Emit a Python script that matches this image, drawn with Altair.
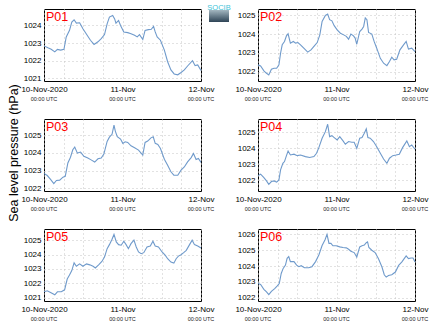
import altair as alt
import pandas as pd
import math

FONT = "Liberation Sans"

names = ["P01", "P02", "P03", "P04", "P05", "P06"]

P01_h = [0,1.2,2.2,3.3,4.1,5.1,6.1,6.8,7.8,8.5,9.2,9.9,10.9,11.9,13.2,14.2,15.3,16.5,17.5,18.5,19.3,20,21,21.6,22,22.8,23.4,24.4,25.6,26.6,27.7,28.5,29.2,30.2,30.9,31.9,32.8,33.5,34,34.6,35.6,36.8,37.8,38.8,39.8,40.9,41.9,42.9,43.9,45.4,46.2,47,48]
P01_v = [1022.84,1022.73,1022.65,1022.5,1022.64,1022.6,1022.64,1023.35,1023.72,1024.19,1024.32,1024.13,1024.15,1023.81,1023.44,1023.16,1022.92,1023.07,1023.25,1023.48,1024.09,1024.47,1024.56,1024.37,1024.13,1024.28,1024.0,1023.63,1023.59,1023.53,1023.44,1023.35,1023.48,1023.2,1023.72,1023.76,1023.78,1023.94,1023.63,1023.35,1023.16,1022.6,1021.94,1021.48,1021.25,1021.2,1021.33,1021.48,1021.7,1022.0,1021.72,1021.76,1021.44]

P02_h = [0,0.8,1.8,2.6,3.3,4.1,4.9,5.7,6.4,6.9,7.4,8.1,8.7,9.2,9.9,10.8,11.5,12.2,13,14,15.2,16.2,17.3,18.1,18.9,19.6,20.6,21.3,21.9,22.6,23.3,24.2,25.2,26.2,27,27.7,28.4,29.2,29.7,30.2,31.1,31.8,32.3,32.8,33.3,33.8,34.8,35.5,36.3,37.4,38.4,39.4,40.2,40.9,41.6,42.4,43.4,44.5,45.3,46,47,48]
P02_v = [1022.36,1022.3,1022.04,1021.91,1021.82,1022.13,1022.18,1022.18,1022.36,1022.98,1023.43,1023.61,1023.91,1024.02,1023.52,1023.61,1023.52,1023.55,1023.43,1023.25,1023.04,1023.16,1023.39,1023.55,1023.96,1024.68,1025.0,1025.07,1024.77,1024.71,1024.45,1024.23,1024.05,1023.96,1023.88,1023.73,1024.0,1023.91,1023.79,1023.46,1024.14,1024.27,1024.41,1024.86,1024.77,1024.09,1024.0,1023.61,1023.25,1022.71,1022.45,1022.32,1022.54,1022.77,1022.63,1022.66,1023.16,1023.43,1023.61,1023.2,1023.25,1023.07]

P03_h = [0,1,2,3,3.8,4.8,5.8,6.5,7.3,8.1,8.8,9.4,10.2,11.2,12.2,13.4,14.4,15.5,16.5,17.5,18.3,19.3,20,20.8,21.4,21.8,22.4,23.4,24.1,24.8,25.6,26.6,27.7,28.9,30.2,30.9,31.7,32.7,33.4,34,34.8,35.6,36.8,37.8,38.8,39.7,40.9,41.9,42.9,43.9,45,45.7,46.5,47.2,48]
P03_v = [1022.83,1022.72,1022.5,1022.27,1022.44,1022.46,1022.63,1022.68,1023.43,1023.75,1024.17,1024.32,1023.98,1024.04,1023.8,1023.7,1023.6,1023.48,1023.66,1023.7,1023.93,1024.64,1024.88,1025.04,1025.56,1025.22,1024.9,1024.77,1024.53,1024.62,1024.58,1024.39,1024.28,1024.15,1023.87,1024.58,1024.66,1024.84,1024.9,1024.53,1024.47,1024.24,1023.64,1023.3,1022.93,1022.74,1022.74,1023.02,1023.2,1023.49,1023.73,1023.96,1023.62,1023.68,1023.46]

P04_h = [0,0.8,1.8,2.6,3.3,4.1,4.9,5.7,6.4,6.9,7.6,8.1,8.7,9.2,9.9,11,12,13,14.5,15.8,17.1,17.9,18.6,19.6,20.6,21.3,21.9,22.6,23.3,24.2,25,26,26.7,27.7,28.7,29.4,30.2,31.1,31.8,32.5,33.1,33.6,34.3,35.3,36.3,37.4,38.4,39.4,40.2,41.2,42.2,43.2,44.2,45.5,46.3,47,48]
P04_v = [1022.29,1022.38,1022.17,1021.96,1021.75,1021.92,1021.96,1021.88,1022.02,1022.65,1023.06,1023.17,1023.54,1023.83,1023.58,1023.63,1023.54,1023.58,1023.48,1023.42,1023.48,1023.69,1024.04,1024.63,1025.04,1025.5,1024.73,1024.79,1024.67,1024.52,1024.73,1024.46,1024.25,1024.42,1024.38,1024.38,1024.0,1024.63,1024.67,1024.94,1025.21,1024.67,1024.63,1024.42,1024.1,1023.69,1023.33,1023.06,1023.38,1023.54,1023.58,1023.63,1024.04,1024.46,1024.1,1024.21,1023.94]

P05_h = [0,1,2,3.3,4.1,5.3,6.3,7.1,7.8,8.5,9.2,9.9,10.9,11.9,13,14,15,15.7,16.7,17.7,18.5,19.3,20,20.8,21.4,22.1,22.8,23.6,24.4,25.1,25.8,26.6,27.5,28.2,28.9,29.7,30.5,31.5,32.5,33.3,34,35,36.1,37.1,37.8,38.8,39.7,40.4,41.1,41.9,42.7,43.5,44.5,45.3,46,47,48]
P05_v = [1021.4,1021.47,1021.35,1021.19,1021.4,1021.4,1021.54,1022.29,1022.58,1022.88,1023.42,1023.18,1023.35,1023.18,1023.35,1023.28,1023.18,1023.06,1023.28,1023.52,1023.82,1024.41,1024.69,1025.07,1025.4,1024.88,1024.69,1024.65,1024.93,1024.69,1024.41,1024.76,1025.0,1024.53,1024.18,1024.06,1024.13,1024.53,1024.6,1024.93,1024.6,1024.53,1024.18,1023.94,1023.71,1023.47,1023.4,1023.71,1023.89,1023.99,1024.13,1024.29,1024.69,1025.0,1024.69,1024.6,1024.46]

P06_h = [0,0.8,1.8,2.6,3.3,4.1,5.1,5.9,6.5,7.1,7.7,8.4,8.9,9.4,9.9,11,11.8,12.5,13.2,14.2,15.5,16.5,17.6,18.6,19.6,20.5,21.1,21.7,22.3,22.9,23.9,25,26,27,27.7,28.4,29.4,30.2,31.1,31.8,32.5,33.1,33.5,33.9,34.8,35.8,36.8,37.9,38.6,39.2,39.9,40.9,42,43,44,44.7,45.3,46,46.8,47.4,48]
P06_v = [1022.89,1022.83,1022.53,1022.36,1022.19,1022.4,1022.57,1022.74,1022.89,1023.53,1023.85,1024.06,1024.49,1024.6,1024.28,1024.28,1024.06,1023.96,1024.02,1023.89,1023.89,1023.96,1024.28,1024.7,1025.3,1025.66,1026.0,1025.43,1025.43,1025.28,1025.28,1025.21,1025.17,1025.15,1025.06,1024.94,1024.85,1024.57,1025.21,1025.28,1025.32,1025.47,1025.53,1025.17,1025.0,1024.85,1024.47,1023.94,1023.45,1023.3,1023.4,1023.45,1023.62,1024.04,1024.26,1024.47,1024.64,1024.47,1024.51,1024.51,1024.26]

hours = [P01_h, P02_h, P03_h, P04_h, P05_h, P06_h]
values = [P01_v, P02_v, P03_v, P04_v, P05_v, P06_v]
ylims = [
    [1020.85, 1024.93],
    [1021.5, 1025.34],
    [1021.85, 1025.9],
    [1021.33, 1025.83],
    [1020.76, 1025.78],
    [1021.79, 1026.34],
]

x_grid_hours = [0, 6, 12, 18, 24, 30, 36, 42, 48]
x_label_hours = [0, 24, 48]
x_label_text = ["10-Nov-2020", "11-Nov", "12-Nov"]
sub_label = "00:00 UTC"
y_title = "Sea level pressure (hPa)"
logo_text = "SOCIB"

W = 157
H = 72
LINE_COLOR = "#6f9acb"
GRID_COLOR = "#c4c4c4"

label_expr = " : ".join(
    f"datum.value == {h} ? '{t}'" for h, t in zip(x_label_hours, x_label_text)
) + " : ''"


def panel(i):
    name = names[i]
    df = pd.DataFrame({"h": hours[i], "p": values[i]})
    lo, hi = ylims[i]
    yticks = list(range(math.ceil(lo), math.floor(hi) + 1))

    X = alt.X(
        "h:Q",
        scale=alt.Scale(domain=[0, 48], nice=False, zero=False),
        axis=alt.Axis(
            values=x_grid_hours, labelExpr=label_expr, grid=True,
            gridDash=[1, 3], gridColor=GRID_COLOR, gridWidth=1,
            ticks=False, domain=False, labelFontSize=8, labelPadding=4,
            labelFont=FONT, labelColor="black", title=None, labelAngle=0,
            labelOverlap=False, labelFlush=False,
        ),
    )
    Y = alt.Y(
        "p:Q",
        scale=alt.Scale(domain=[lo, hi], nice=False, zero=False),
        axis=alt.Axis(
            values=yticks, format="d", grid=True, gridDash=[1, 3],
            gridColor=GRID_COLOR, gridWidth=1, ticks=False, domain=False,
            labelFontSize=8, labelPadding=3, labelFont=FONT,
            labelColor="black", title=None,
        ),
    )

    line = alt.Chart(df).mark_line(color=LINE_COLOR, strokeWidth=1.1).encode(x=X, y=Y)

    sub = alt.Chart(pd.DataFrame({"h": x_label_hours, "t": [sub_label] * 3})).mark_text(
        fontSize=5.5, font=FONT, color="#222222", baseline="alphabetic", align="center"
    ).encode(x=X, y=alt.value(H + 19.5), text="t:N")

    lab = alt.Chart(pd.DataFrame({"n": [name]})).mark_text(
        fontSize=12.5, font=FONT, color="#ff0000", baseline="alphabetic", align="left"
    ).encode(x=alt.value(2), y=alt.value(12), text="n:N")

    layers = [line, sub, lab]

    if i == 2:
        ttl = alt.Chart(pd.DataFrame({"t": [y_title]})).mark_text(
            fontSize=12.5, font=FONT, color="black", angle=270,
            baseline="middle", align="center"
        ).encode(x=alt.value(-30), y=alt.value(H / 2 - 2), text="t:N")
        layers.append(ttl)

    if i == 1:
        grad = alt.LinearGradient(
            gradient="linear",
            stops=[
                alt.GradientStop(color="#a3b6c0", offset=0),
                alt.GradientStop(color="#2e4456", offset=1),
            ],
            x1=0, x2=0, y1=0, y2=1,
        )
        box = alt.Chart(pd.DataFrame({"a": [1]})).mark_rect(color=grad).encode(
            x=alt.value(-49), x2=alt.value(-29), y=alt.value(1), y2=alt.value(13)
        )
        lt = alt.Chart(pd.DataFrame({"t": [logo_text]})).mark_text(
            fontSize=7.5, font=FONT, color="#3ec3d8", baseline="alphabetic",
            align="center"
        ).encode(x=alt.value(-39), y=alt.value(0.5), text="t:N")
        layers += [box, lt]

    return alt.layer(*layers).properties(width=W, height=H)


chart = alt.concat(
    *[panel(i) for i in range(6)],
    columns=2,
    spacing={"row": 38, "column": 57},
    bounds="flush",
).properties(
    padding={"left": 7, "top": 3, "right": 5, "bottom": 5},
    background="white",
).configure_view(
    stroke="black", strokeWidth=1
)

chart.save("out.html", embed_options={"renderer": "svg", "actions": False})
